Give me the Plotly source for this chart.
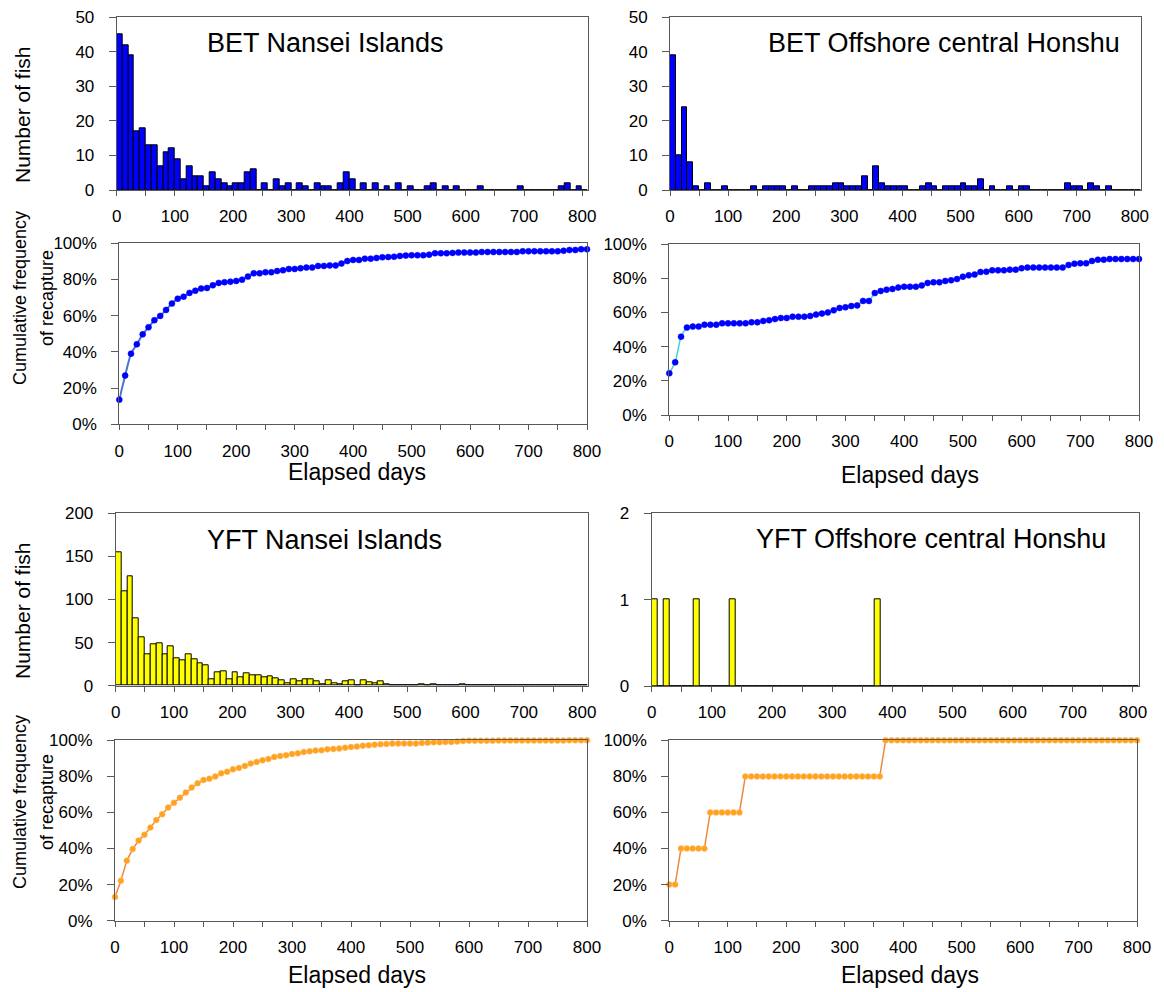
import plotly.graph_objects as go

# ---------------- data ----------------
bins = list(range(0, 810, 10))   # elapsed-day bins (0,10,...,800)

bet_nansei_hist = [45, 42, 39, 17, 18, 13, 13, 7, 11, 12,
                   9, 3, 7, 4, 4, 1, 5, 3, 2, 1,
                   2, 2, 5, 6, 0, 2, 0, 3, 1, 2,
                   0, 2, 1, 0, 2, 1, 1, 0, 2, 5,
                   3, 0, 2, 0, 2, 0, 1, 0, 2, 0,
                   1, 0, 0, 1, 2, 0, 1, 0, 1, 0,
                   0, 0, 1, 0, 0, 0, 0, 0, 0, 1,
                   0, 0, 0, 0, 0, 0, 1, 2, 0, 1, 0]

bet_offshore_hist = [39, 10, 24, 8, 1, 0, 2, 0, 0, 1,
                     0, 0, 0, 0, 1, 0, 1, 1, 1, 1,
                     0, 1, 0, 0, 1, 1, 1, 1, 2, 2,
                     1, 1, 1, 4, 0, 7, 2, 1, 1, 1,
                     1, 0, 0, 1, 2, 1, 0, 1, 1, 1,
                     2, 1, 1, 3, 0, 1, 0, 0, 1, 0,
                     1, 1, 0, 0, 0, 0, 0, 0, 2, 1,
                     1, 0, 2, 1, 0, 1, 0, 0, 0, 0, 0]

yft_nansei_hist = [155, 109, 127, 78, 56, 36, 48, 49, 36, 46,
                   32, 29, 36, 31, 26, 24, 8, 16, 17, 8,
                   15, 10, 14, 12, 12, 10, 11, 9, 6, 3,
                   7, 5, 8, 7, 5, 2, 6, 3, 2, 5,
                   6, 1, 6, 4, 3, 5, 2, 1, 0, 1,
                   1, 0, 2, 1, 2, 0, 1, 0, 1, 2,
                   1, 1, 0, 0, 0, 1, 0, 0, 0, 1,
                   0, 0, 0, 0, 0, 0, 0, 1, 0, 0, 1]

yft_offshore_hist = [1, 0, 1, 0, 0, 0, 0, 1, 0, 0,
                     0, 0, 0, 1, 0, 0, 0, 0, 0, 0,
                     0, 0, 0, 0, 0, 0, 0, 0, 0, 0,
                     0, 0, 0, 0, 0, 0, 0, 1, 0, 0,
                     0, 0, 0, 0, 0, 0, 0, 0, 0, 0,
                     0, 0, 0, 0, 0, 0, 0, 0, 0, 0,
                     0, 0, 0, 0, 0, 0, 0, 0, 0, 0,
                     0, 0, 0, 0, 0, 0, 0, 0, 0, 0, 0]

# cumulative frequency of recapture (%)
bet_nansei_cum = [13.6, 26.9, 39.0, 44.2, 49.7, 53.6, 57.5, 59.9, 63.2, 66.7,
                  69.4, 70.5, 72.6, 73.8, 75.0, 75.3, 76.8, 78.1, 78.5, 78.8,
                  79.2, 79.9, 81.6, 83.4, 83.4, 84.0, 84.0, 84.7, 85.1, 85.8,
                  85.8, 86.2, 86.6, 86.6, 87.5, 87.5, 87.8, 87.8, 88.8, 90.2,
                  90.8, 90.8, 91.5, 91.5, 91.9, 92.3, 92.4, 92.6, 93.0, 93.2,
                  93.4, 93.4, 93.4, 93.7, 94.5, 94.5, 94.5, 94.7, 94.9, 94.9,
                  94.9, 94.9, 95.2, 95.2, 95.2, 95.2, 95.2, 95.2, 95.2, 95.6,
                  95.6, 95.6, 95.6, 95.6, 95.6, 95.6, 95.9, 96.3, 96.3, 96.7, 96.7]

bet_offshore_cum = [24.4, 30.8, 45.8, 51.1, 51.7, 51.7, 52.8, 52.8, 52.8, 53.6,
                    53.6, 53.6, 53.6, 53.6, 54.2, 54.2, 55.0, 55.4, 56.1, 56.7,
                    56.7, 57.5, 57.5, 57.5, 57.9, 58.7, 59.3, 60.0, 61.2, 62.6,
                    63.0, 63.7, 64.1, 66.7, 66.7, 71.3, 72.5, 73.3, 73.7, 74.5,
                    75.0, 75.0, 75.0, 75.8, 77.2, 77.6, 77.6, 78.4, 78.8, 79.5,
                    80.9, 81.7, 82.1, 83.6, 83.8, 84.6, 84.6, 84.6, 85.0, 85.0,
                    85.8, 86.2, 86.2, 86.2, 86.2, 86.2, 86.2, 86.2, 87.7, 88.5,
                    88.7, 88.7, 90.1, 90.8, 90.8, 91.2, 91.2, 91.2, 91.2, 91.2, 91.2]

yft_nansei_cum = [13.1, 22.2, 33.3, 39.7, 44.4, 47.7, 51.6, 55.8, 59.0, 62.7,
                  65.4, 68.2, 71.0, 73.8, 76.2, 78.0, 78.7, 80.0, 81.7, 82.6,
                  83.9, 84.7, 85.8, 87.1, 88.0, 88.9, 89.6, 90.8, 91.3, 91.7,
                  92.4, 92.8, 93.5, 93.9, 94.3, 94.5, 95.0, 95.2, 95.4, 95.9,
                  96.3, 96.5, 97.0, 97.2, 97.6, 97.8, 98.0, 98.2, 98.2, 98.2,
                  98.2, 98.2, 98.5, 98.7, 98.9, 98.9, 99.1, 99.1, 99.3, 99.6,
                  99.8, 99.8, 99.8, 99.8, 99.8, 99.9, 99.9, 99.9, 99.9, 99.9,
                  99.9, 99.9, 99.9, 99.9, 99.9, 99.9, 99.9, 100, 100, 100, 100]

yft_offshore_cum = [20, 20, 40, 40, 40, 40, 40, 60, 60, 60,
                    60, 60, 60, 80, 80, 80, 80, 80, 80, 80,
                    80, 80, 80, 80, 80, 80, 80, 80, 80, 80,
                    80, 80, 80, 80, 80, 80, 80, 100, 100, 100,
                    100, 100, 100, 100, 100, 100, 100, 100, 100, 100,
                    100, 100, 100, 100, 100, 100, 100, 100, 100, 100,
                    100, 100, 100, 100, 100, 100, 100, 100, 100, 100,
                    100, 100, 100, 100, 100, 100, 100, 100, 100, 100, 100]

panel_titles = ["BET Nansei Islands", "BET Offshore central Honshu",
                "YFT Nansei Islands", "YFT Offshore central Honshu"]

# ---------------- layout helpers ----------------
# the page body has an 8px margin, so the figure is 8px smaller and all
# screen-pixel positions below are shifted by that offset
OFF = 8
W, H = 1164 - OFF, 992 - OFF
FONT = "Liberation Sans, Arial, sans-serif"


def fx(px):
    return (px - OFF) / W


def fy(py):
    return 1 - (py - OFF) / H


def dom(x0, x1, yt, yb):
    return [fx(x0), fx(x1)], [fy(yb), fy(yt)]


# panel screen-pixel boxes (x0, x1, ytop, ybottom)
boxes = {
    1: (116.7, 588.0, 17.3, 190.0),   # BET Nansei hist
    2: (670.0, 1140.7, 17.3, 190.0),  # BET Offshore hist
    3: (119.3, 587.0, 243.3, 424.3),  # BET Nansei cum
    4: (669.3, 1139.0, 244.0, 415.0), # BET Offshore cum
    5: (115.7, 588.0, 513.3, 685.7),  # YFT Nansei hist
    6: (651.7, 1139.0, 513.3, 686.0), # YFT Offshore hist
    7: (115.0, 587.0, 740.3, 920.7),  # YFT Nansei cum
    8: (669.3, 1137.0, 740.3, 920.7), # YFT Offshore cum
}

fig = go.Figure()

axis_line = "#595959"


def xaxis_cfg(k, rng):
    xd, yd = dom(*boxes[k])
    return dict(domain=xd, anchor="y" + ("" if k == 1 else str(k)), range=rng,
                automargin=False,
                showgrid=False, zeroline=False, showline=True, mirror=True,
                linecolor=axis_line, linewidth=1,
                ticks="outside", ticklen=5, tickcolor=axis_line,
                tick0=0, dtick=100, ticklabelstandoff=6,
                minor=dict(dtick=50, ticks="outside", ticklen=5, tickcolor=axis_line),
                tickfont=dict(family=FONT, size=17, color="black"))


def yaxis_cfg(k, rng, dtick, suffix=""):
    xd, yd = dom(*boxes[k])
    return dict(domain=yd, anchor="x" + ("" if k == 1 else str(k)), range=rng,
                automargin=False,
                showgrid=False, zeroline=False, showline=True, mirror=True,
                linecolor=axis_line, linewidth=1,
                ticks="outside", ticklen=7, tickcolor=axis_line,
                tick0=0, dtick=dtick, ticksuffix=suffix, ticklabelstandoff=11,
                tickfont=dict(family=FONT, size=17, color="black"))


hist_specs = [(1, bet_nansei_hist, "#0000FF", [0, 50], 10),
              (2, bet_offshore_hist, "#0000FF", [0, 50], 10),
              (5, yft_nansei_hist, "#FFFF00", [0, 200], 50),
              (6, yft_offshore_hist, "#FFFF00", [0, 2], 1)]

layout_axes = {}
for k, vals, col, yr, dt in hist_specs:
    sx = "" if k == 1 else str(k)
    fig.add_trace(go.Bar(x=bins, y=vals, width=10, offset=0,
                         marker=dict(color=col, line=dict(color="black", width=1)),
                         xaxis="x" + sx, yaxis="y" + sx, showlegend=False))
    layout_axes["xaxis" + sx] = xaxis_cfg(k, [0, 810])
    layout_axes["yaxis" + sx] = yaxis_cfg(k, yr, dt)

cum_specs = [(3, bet_nansei_cum, "#4A74CF", 2, "#0000FF", "#0000FF", 6, "spline"),
             (4, bet_offshore_cum, "#40D4D4", 1.5, "#0000FF", "#0000FF", 6, "spline"),
             (7, yft_nansei_cum, "#F0883A", 1.5, "#FFA21E", "#FFC27A", 6, "linear"),
             (8, yft_offshore_cum, "#F0883A", 1.5, "#FFA21E", "#FFC27A", 6, "linear")]

for k, vals, lcol, lw, mcol, medge, ms, shape in cum_specs:
    sx = str(k)
    fig.add_trace(go.Scatter(x=bins, y=vals, mode="lines+markers",
                             line=dict(color=lcol, width=lw, shape=shape, smoothing=0.6),
                             marker=dict(color=mcol, size=ms, line=dict(color=medge, width=0.5)),
                             xaxis="x" + sx, yaxis="y" + sx, showlegend=False,
                             cliponaxis=False))
    layout_axes["xaxis" + sx] = xaxis_cfg(k, [0, 800])
    layout_axes["yaxis" + sx] = yaxis_cfg(k, [0, 100], 20, "%")

annotations = []


def ann(text, px, py, size, angle=0):
    annotations.append(dict(text=text, x=fx(px), y=fy(py), xref="paper", yref="paper",
                            showarrow=False, textangle=angle, xanchor="center", yanchor="middle",
                            font=dict(family=FONT, size=size, color="black")))


# panel titles
ann(panel_titles[0], 325, 43, 27)
ann(panel_titles[1], 944, 43, 27)
ann(panel_titles[2], 324, 540, 27)
ann(panel_titles[3], 931, 539, 27)

# axis titles
ann("Number of fish", 22, 115, 21, -90)
ann("Number of fish", 22, 611, 21, -90)
ann("Cumulative frequency", 20, 298, 18, -90)
ann("of recapture", 47, 298, 18, -90)
ann("Cumulative frequency", 20, 802, 18, -90)
ann("of recapture", 47, 802, 18, -90)
ann("Elapsed days", 357, 472, 23)
ann("Elapsed days", 910, 475, 23)
ann("Elapsed days", 357, 975, 23)
ann("Elapsed days", 910, 975, 23)

fig.update_layout(width=W, height=H, autosize=False,
                  margin=dict(l=0, r=0, t=0, b=0),
                  paper_bgcolor="white", plot_bgcolor="white",
                  bargap=0, annotations=annotations, **layout_axes)

fig.write_html("out.html")
